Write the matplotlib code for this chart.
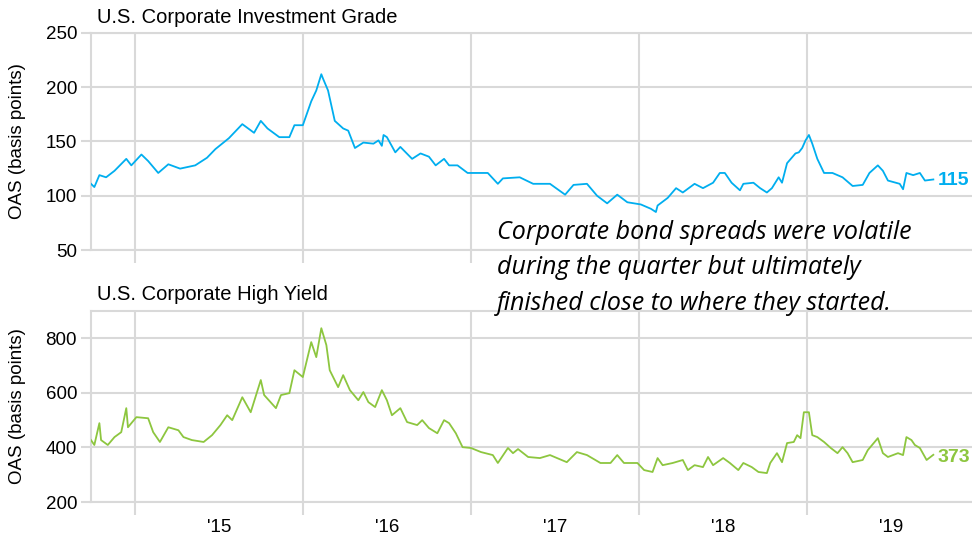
import numpy as np
import matplotlib
matplotlib.use("Agg")
import matplotlib.pyplot as plt

plt.rcParams['font.family'] = ['Liberation Sans', 'DejaVu Sans']

# --- data (decimal year, OAS in bp) ---
ig_dates = [2014.74, 2014.76, 2014.79, 2014.83, 2014.88, 2014.95, 2014.98, 2015.04, 2015.08, 2015.14,
            2015.20, 2015.27, 2015.36, 2015.43, 2015.48, 2015.56, 2015.64, 2015.71, 2015.75, 2015.79,
            2015.86, 2015.92, 2015.95, 2016.00, 2016.05, 2016.08, 2016.11, 2016.12, 2016.15, 2016.19,
            2016.24, 2016.27, 2016.31, 2016.36, 2016.42, 2016.45, 2016.47, 2016.48, 2016.50, 2016.55,
            2016.58, 2016.65, 2016.70, 2016.75, 2016.79, 2016.84, 2016.87, 2016.92, 2016.98, 2017.06,
            2017.10, 2017.16, 2017.19, 2017.29, 2017.37, 2017.47, 2017.56, 2017.61, 2017.69, 2017.75,
            2017.81, 2017.87, 2017.93, 2018.01, 2018.07, 2018.10, 2018.11, 2018.17, 2018.22, 2018.26,
            2018.33, 2018.38, 2018.44, 2018.48, 2018.51, 2018.55, 2018.60, 2018.62, 2018.68, 2018.72,
            2018.76, 2018.79, 2018.83, 2018.85, 2018.88, 2018.93, 2018.95, 2018.97, 2018.99, 2019.01,
            2019.03, 2019.06, 2019.10, 2019.15, 2019.21, 2019.27, 2019.33, 2019.37, 2019.42, 2019.45,
            2019.48, 2019.55, 2019.57, 2019.59, 2019.63, 2019.67, 2019.70, 2019.75]
ig_oas = [111, 108, 119, 117, 123, 134, 128, 138, 132, 121,
          129, 125, 128, 135, 143, 153, 166, 158, 169, 162,
          154, 154, 165, 165, 187, 197, 212, 208, 197, 169,
          162, 160, 144, 149, 148, 151, 146, 156, 154, 140,
          145, 134, 139, 136, 128, 134, 128, 128, 121, 121,
          121, 111, 116, 117, 111, 111, 101, 110, 111, 100,
          93, 101, 94, 92, 88, 85, 91, 98, 107, 103,
          111, 107, 112, 121, 121, 112, 105, 111, 112, 107,
          103, 107, 117, 112, 130, 139, 140, 144, 151, 156,
          148, 134, 121, 121, 117, 109, 110, 121, 128, 123,
          114, 111, 106, 121, 119, 121, 114, 115]

hy_dates = [2014.74, 2014.76, 2014.79, 2014.80, 2014.84, 2014.88, 2014.92, 2014.95, 2014.96, 2015.01,
            2015.08, 2015.11, 2015.15, 2015.20, 2015.26, 2015.29, 2015.34, 2015.41, 2015.46, 2015.51,
            2015.55, 2015.58, 2015.64, 2015.69, 2015.75, 2015.77, 2015.84, 2015.87, 2015.92, 2015.95,
            2016.00, 2016.05, 2016.08, 2016.11, 2016.14, 2016.16, 2016.21, 2016.24, 2016.28, 2016.33,
            2016.36, 2016.39, 2016.43, 2016.47, 2016.50, 2016.53, 2016.58, 2016.62, 2016.68, 2016.71,
            2016.75, 2016.80, 2016.84, 2016.87, 2016.91, 2016.95, 2017.00, 2017.06, 2017.13, 2017.16,
            2017.22, 2017.25, 2017.28, 2017.34, 2017.41, 2017.47, 2017.57, 2017.63, 2017.69, 2017.77,
            2017.83, 2017.87, 2017.91, 2017.99, 2018.03, 2018.08, 2018.11, 2018.14, 2018.20, 2018.26,
            2018.29, 2018.33, 2018.38, 2018.41, 2018.44, 2018.50, 2018.54, 2018.59, 2018.62, 2018.67,
            2018.71, 2018.76, 2018.78, 2018.82, 2018.85, 2018.88, 2018.92, 2018.94, 2018.96, 2018.98,
            2019.01, 2019.03, 2019.06, 2019.10, 2019.14, 2019.18, 2019.21, 2019.24, 2019.27, 2019.33,
            2019.36, 2019.42, 2019.45, 2019.48, 2019.54, 2019.57, 2019.59, 2019.62, 2019.64, 2019.67,
            2019.71, 2019.75]
hy_oas = [427, 409, 489, 427, 409, 438, 456, 544, 474, 511,
          507, 456, 420, 474, 463, 438, 427, 420, 445, 482,
          518, 500, 584, 529, 647, 592, 544, 592, 599, 683,
          658, 786, 731, 837, 775, 683, 621, 665, 610, 573,
          603, 566, 548, 610, 573, 518, 544, 493, 482, 500,
          471, 452, 500, 489, 452, 401, 398, 383, 372, 343,
          398, 379, 394, 365, 361, 372, 346, 383, 372, 343,
          343, 372, 343, 343, 317, 310, 361, 335, 343, 354,
          317, 335, 328, 365, 335, 361, 343, 317, 343, 328,
          310, 306, 343, 379, 346, 416, 420, 445, 434, 529,
          529, 445, 438, 420, 398, 379, 401, 379, 346, 354,
          390, 434, 379, 365, 379, 372, 438, 427, 409, 398,
          354, 373]

years = [2015, 2016, 2017, 2018, 2019]
year_labels = ["'15", "'16", "'17", "'18", "'19"]
note = ["Corporate bond spreads were volatile",
        "during the quarter but ultimately",
        "finished close to where they started."]

ig_color = '#00AEEF'
hy_color = '#8DC63F'
grid_c = '#D9D9D9'

fig = plt.figure(figsize=(9.72, 5.38), dpi=100)
ax1 = fig.add_axes([0.0936, 0.5353, 0.9064, 0.4034])
ax2 = fig.add_axes([0.0936, 0.0669, 0.9064, 0.3550])

panels = [(ax1, ig_dates, ig_oas, ig_color, (50, 250), [50, 100, 150, 200, 250]),
          (ax2, hy_dates, hy_oas, hy_color, (200, 900), [200, 400, 600, 800])]

for ax, d, v, c, lim, yt in panels:
    ax.plot(d, v, color=c, lw=1.3, zorder=3)
    ax.set_xlim(2014.74, 2019.98)
    ax.set_ylim(*lim)
    ax.set_yticks(yt)
    ax.set_xticks(years)
    ax.set_xticks([y + 0.5 for y in years], minor=True)
    ax.set_xticklabels([])
    ax.grid(True, color=grid_c, lw=1.5, zorder=0)
    ax.grid(False, which='minor')
    ax.spines['right'].set_visible(False)
    for s in ['left', 'top', 'bottom']:
        ax.spines[s].set_color(grid_c)
        ax.spines[s].set_linewidth(1.5)
    ax.tick_params(axis='y', length=7, width=1.5, color=grid_c, labelsize=13.5, pad=3)
    ax.tick_params(axis='x', which='major', length=9, width=1.5, color=grid_c)
    ax.tick_params(axis='x', which='minor', length=0, labelsize=13.5, pad=12)
    ax.set_ylabel("OAS (basis points)", fontsize=13.5)
    ax.yaxis.set_label_coords(-0.074, 0.5)

ax2.set_xticklabels(year_labels, minor=True)
ax1.set_xticklabels([], minor=True)

ax1.annotate(str(ig_oas[-1]), xy=(ig_dates[-1], ig_oas[-1]), xytext=(3, -1),
             textcoords='offset points', va='center', ha='left',
             color=ig_color, fontsize=14, fontweight='bold')
ax2.annotate(str(hy_oas[-1]), xy=(hy_dates[-1], hy_oas[-1]), xytext=(3, -2),
             textcoords='offset points', va='center', ha='left',
             color=hy_color, fontsize=14, fontweight='bold')

fig.text(97 / 972, 1 - 23 / 538, "U.S. Corporate Investment Grade", fontsize=14.5, va='baseline')
fig.text(97 / 972, 1 - 300 / 538, "U.S. Corporate High Yield", fontsize=14.5, va='baseline')

for i, line in enumerate(note):
    fig.text(497 / 972, 1 - (239 + 35.5 * i) / 538, line, fontsize=18, style='italic',
             family=['Open Sans', 'DejaVu Sans'], va='baseline')

fig.savefig("out.png", dpi=100)
